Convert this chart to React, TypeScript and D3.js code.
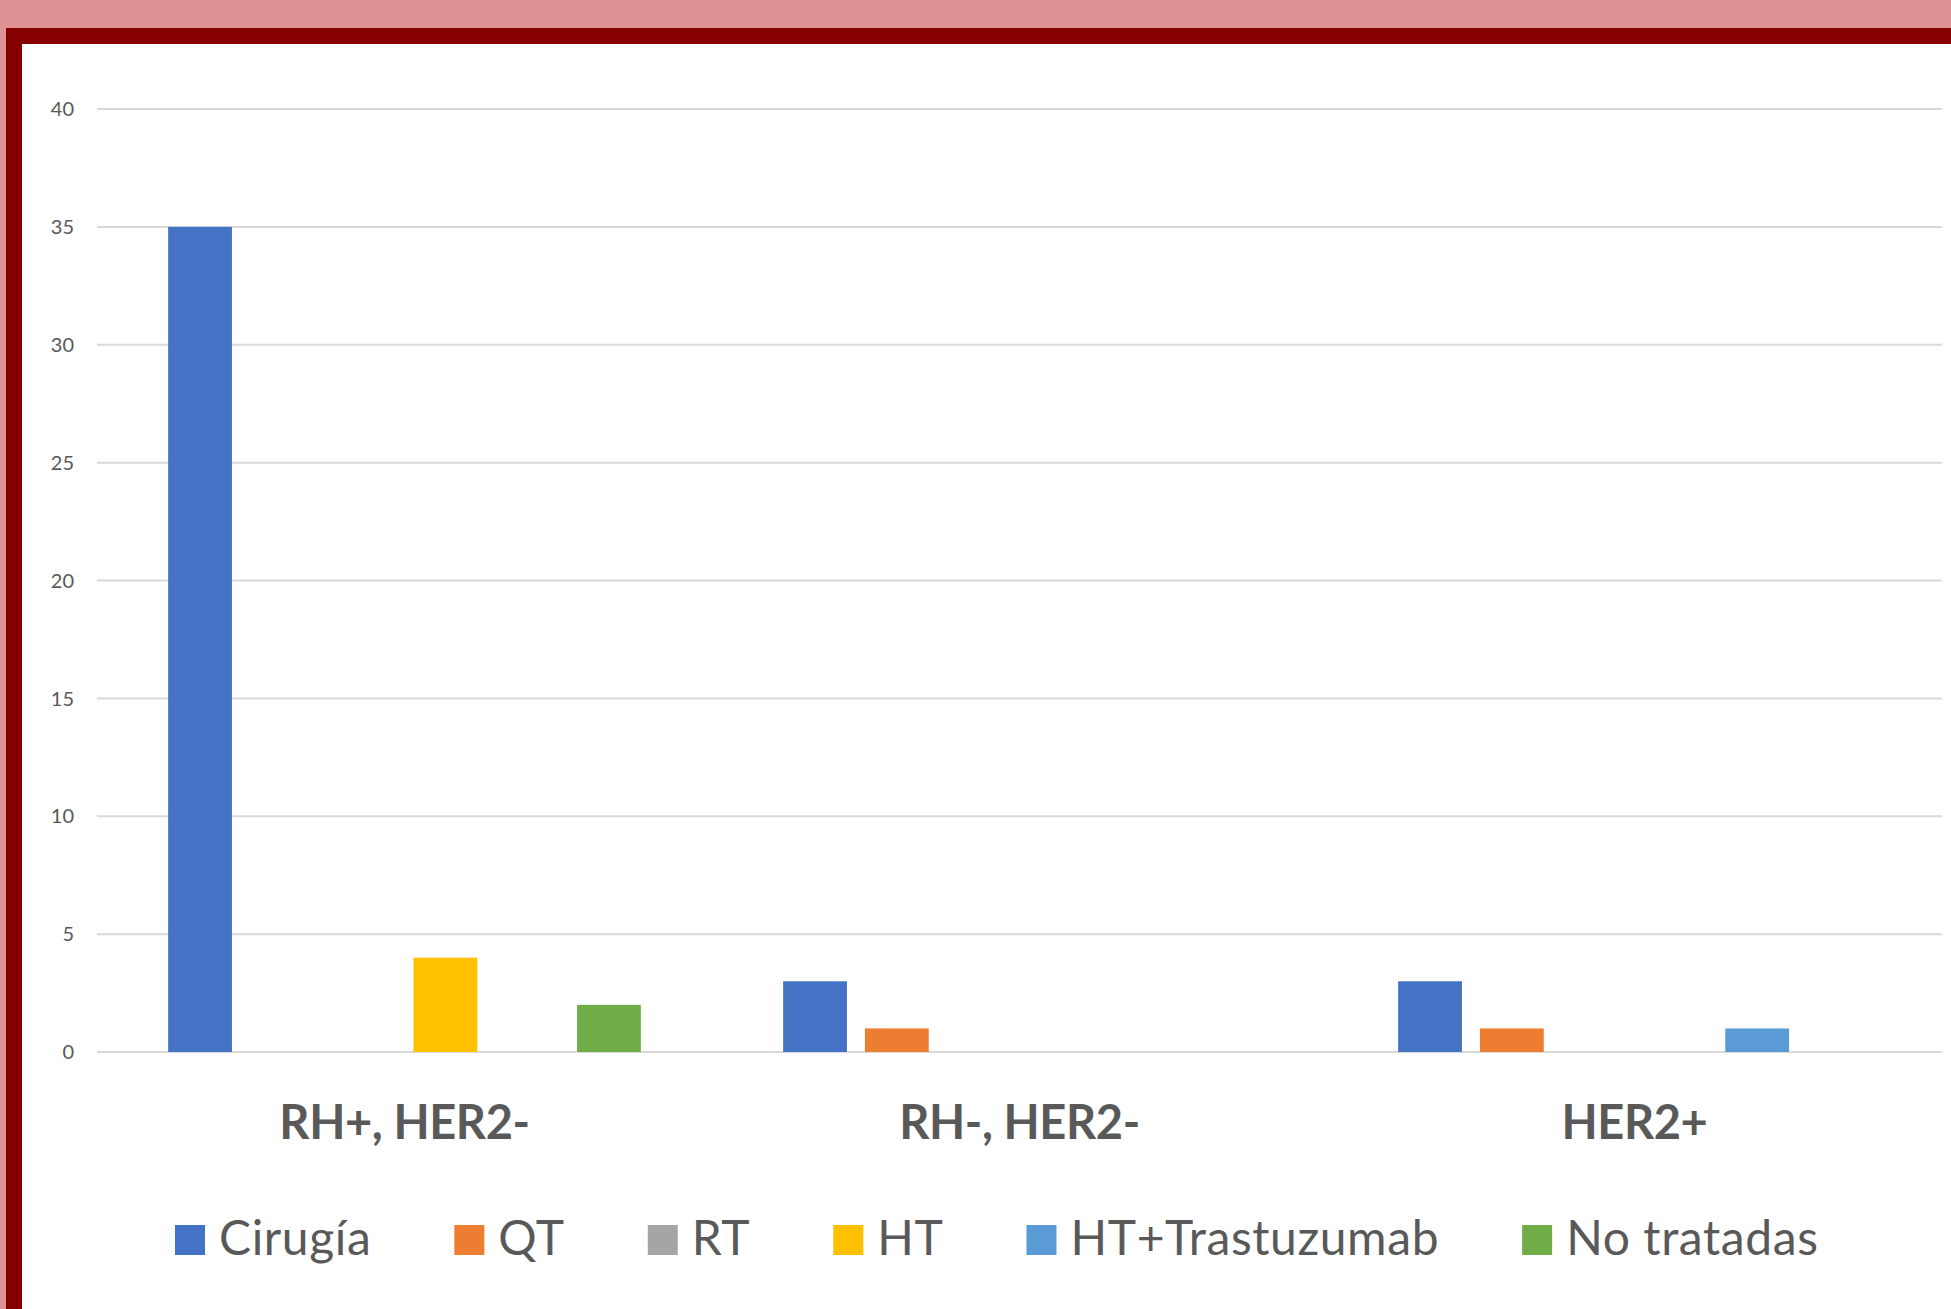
import React from "react";
import * as d3 from "d3";

const categories = ["RH+, HER2-", "RH-, HER2-", "HER2+"];
const seriesNames = ["Cirugía", "QT", "RT", "HT", "HT+Trastuzumab", "No tratadas"];
const seriesColors = ["#4472C4", "#ED7D31", "#A5A5A5", "#FFC000", "#5B9BD5", "#70AD47"];
const cirugia = [35, 3, 3];
const qt = [0, 1, 1];
const rt = [0, 0, 0];
const ht = [4, 0, 0];
const htTrastuzumab = [0, 0, 1];
const noTratadas = [2, 0, 0];
const yTicks = [0, 5, 10, 15, 20, 25, 30, 35, 40];

const seriesValues = [cirugia, qt, rt, ht, htTrastuzumab, noTratadas];

const W = 1951;
const H = 1309;
const FONT = "Lato, 'Open Sans', sans-serif";

function measure(text: string, font: string, spacing: number): number {
  const c = document.createElement("canvas");
  const ctx = c.getContext("2d");
  if (!ctx) return text.length * 20;
  ctx.font = font;
  return ctx.measureText(text).width + spacing * text.length;
}

export default function App() {
  React.useEffect(() => {
    document.body.style.margin = "0";
  }, []);

  const plotLeft = 97;
  const plotRight = 1942;
  const y = d3.scaleLinear().domain([0, 40]).range([1052, 109]);
  const x0 = d3.scaleBand<string>().domain(categories).range([plotLeft, plotRight]).padding(0);
  const x1 = d3
    .scaleBand<string>()
    .domain(seriesNames)
    .range([0, x0.bandwidth()])
    .paddingInner(0.22)
    .paddingOuter(0.87);

  // legend layout
  const legendFontSize = 48;
  const legendSpacing = 0.6;
  const legendFont = `${legendFontSize}px Lato`;
  const sq = 30;
  const sqGap = 14;
  const itemGap = 83;
  const widths = seriesNames.map((s) => measure(s, legendFont, legendSpacing));
  let cursor = 175;
  const legendItems = seriesNames.map((s, i) => {
    const item = { name: s, color: seriesColors[i], x: cursor };
    cursor += sq + sqGap + widths[i] + itemGap;
    return item;
  });

  return (
    <svg
      width={W}
      height={H}
      style={{ position: "absolute", left: 0, top: 0, display: "block" }}
      fontFamily={FONT}
    >
      <rect x={0} y={0} width={W} height={H} fill="#DF9294" />
      <rect x={6} y={28} width={W - 6} height={H - 28} fill="#870000" />
      <rect x={22} y={44} width={W - 22} height={H - 44} fill="#FFFFFF" />

      {yTicks.map((t) => (
        <g key={t}>
          <line
            x1={plotLeft}
            x2={plotRight}
            y1={y(t)}
            y2={y(t)}
            stroke="#D9D9D9"
            strokeWidth={2}
          />
          <text
            x={74}
            y={y(t)}
            dy="0.36em"
            textAnchor="end"
            fontSize={20}
            fill="#595959"
          >
            {t}
          </text>
        </g>
      ))}

      {categories.map((c, ci) => (
        <g key={c} transform={`translate(${x0(c)},0)`}>
          {seriesNames.map((s, si) => {
            const v = seriesValues[si][ci];
            if (v <= 0) return null;
            return (
              <rect
                key={s}
                x={x1(s)}
                y={y(v)}
                width={x1.bandwidth()}
                height={y(0) - y(v)}
                fill={seriesColors[si]}
              />
            );
          })}
          <text
            x={x0.bandwidth() / 2}
            y={1139}
            textAnchor="middle"
            fontSize={47}
            letterSpacing={-0.4}
            fontWeight="bold"
            fill="#595959"
          >
            {c}
          </text>
        </g>
      ))}

      {legendItems.map((it) => (
        <g key={it.name}>
          <rect x={it.x} y={1225} width={sq} height={sq} fill={it.color} />
          <text
            x={it.x + sq + sqGap}
            y={1255}
            fontSize={legendFontSize}
            letterSpacing={legendSpacing}
            fill="#595959"
          >
            {it.name}
          </text>
        </g>
      ))}
    </svg>
  );
}
